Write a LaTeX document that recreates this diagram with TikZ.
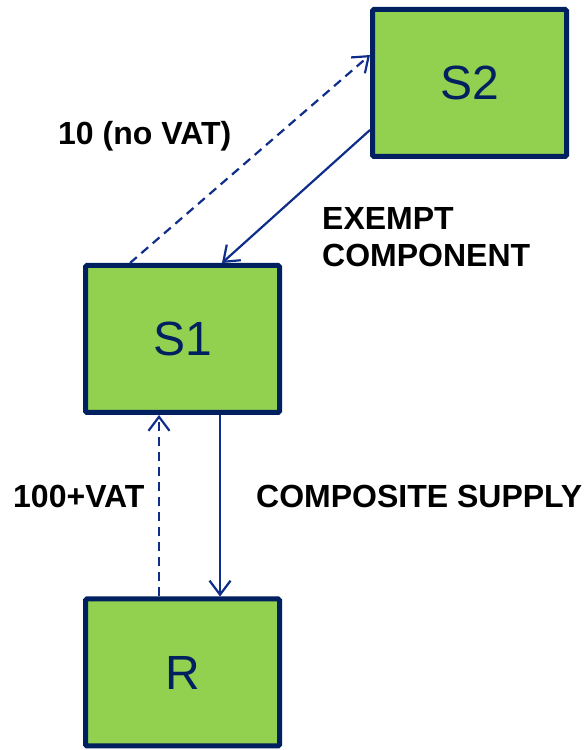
\documentclass[tikz,border=0pt]{standalone}
\usepackage{fontspec}
\setmainfont{Liberation Sans}
\usetikzlibrary{arrows.meta,calc}
\definecolor{boxfill}{HTML}{92D050}
\definecolor{boxline}{HTML}{002060}
\definecolor{arrowblue}{HTML}{0F2E8A}
\tikzset{
  party/.style={draw=boxline, fill=boxfill, line width=5pt, rounded corners=1.5pt,
    minimum width=194pt, minimum height=147pt, inner sep=0pt,
    text=boxline, font=\fontsize{48}{56}\selectfont},
  flow/.style={draw=arrowblue, line width=2.2pt,
    -{Straight Barb[length=14pt,width=21pt,line width=2.2pt]}},
  payment/.style={flow, dash pattern=on 9pt off 6pt},
  tag/.style={font=\bfseries\fontsize{32}{37}\selectfont, text=black, inner sep=0pt, anchor=base west}
}
\begin{document}
\begin{tikzpicture}[x=1pt,y=1pt]
  \useasboundingbox (0,0) rectangle (585,750);
  % trading parties
  \node[party] (S2) at (469.5,667) {S2};
  \node[party] (S1) at (182.5,411) {S1};
  \node[party] (R)  at (182.5,77.5) {R};
  % supplies (solid) and payments (dashed)
  \draw[payment] ($(S1.north)+(-52.5,0)$) -- ($(S2.west)+(0,28)$);
  \draw[flow] ($(S2.west)+(0,-47)$) -- ($(S1.north)+(39.5,0)$);
  \draw[flow] ($(S1.south)+(37.5,0)$) -- ($(R.north)+(37.5,0)$);
  \draw[payment] ($(R.north)+(-23.5,0)$) -- ($(S1.south)+(-23.5,0)$);
  % labels
  \node[tag] (pay1) at (58,605) {10 (no VAT)};
  \node[tag] (sup1a) at (322,520) {EXEMPT};
  \node[tag] (sup1b) at (322,483) {COMPONENT};
  \node[tag] (pay2) at (13,242) {100+VAT};
  \node[tag] (sup2) at (256,242) {COMPOSITE SUPPLY};
\end{tikzpicture}
\end{document}
